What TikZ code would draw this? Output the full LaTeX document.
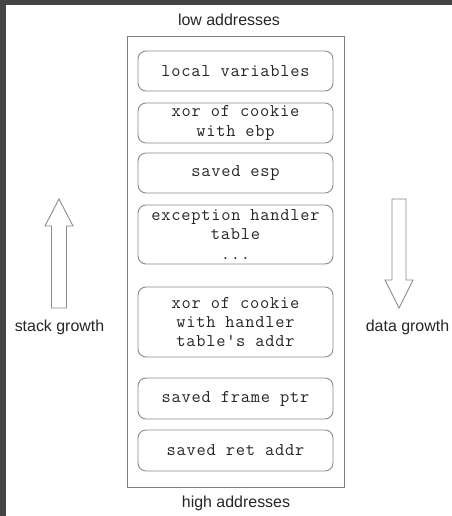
\documentclass[tikz,border=0pt]{standalone}
\usepackage{fontspec}
\setmainfont{Liberation Sans}
\newfontfamily\cellfont[LetterSpace=4.2]{Latin Modern Mono}
\definecolor{framegray}{HTML}{808080}
\definecolor{boxgray}{HTML}{8A8A8A}
\definecolor{edgedark}{HTML}{444444}
\begin{document}
\begin{tikzpicture}[x=1bp,y=-1bp,
  cell/.style={draw=boxgray,line width=0.9bp,rounded corners=8bp,minimum width=195bp,
    inner sep=0pt,align=center,font=\cellfont\fontsize{18}{19.5}\selectfont,text=black!85},
  lbl/.style={font=\fontsize{16}{19}\selectfont,text=black!85,inner sep=0pt},
  growarrow/.style={draw=boxgray,line width=0.9bp,fill=white}]
\useasboundingbox (0,0) rectangle (452,516);
\fill[white] (0,0) rectangle (452,516);
\fill[edgedark] (0,0) rectangle (452,5);
\fill[edgedark] (0,0) rectangle (6,516);
% outer frame
\draw[framegray,line width=1bp] (127,37) rectangle (344,487);
\node[lbl] (low) at (229,20) {low addresses};
\node[lbl] (high) at (236,503) {high addresses};
% cells
\node[cell,minimum height=40bp] (c1) at (235.5,71) {local variables};
\node[cell,minimum height=40bp] (c2) at (235.5,123) {xor of cookie\\with ebp};
\node[cell,minimum height=40bp] (c3) at (235.5,173) {saved esp};
\node[cell,minimum height=59bp] (c4) at (235.5,234.5) {exception handler\\table\\...};
\node[cell,minimum height=70bp] (c5) at (235.5,322) {xor of cookie\\with handler\\table's addr};
\node[cell,minimum height=41bp] (c6) at (235.5,398.5) {saved frame ptr};
\node[cell,minimum height=41bp] (c7) at (235.5,450.5) {saved ret addr};
% growth arrows
\draw[growarrow] (51.5,308) -- (51.5,226) -- (45,226) -- (59,199) -- (73,226) -- (66.5,226) -- (66.5,308) -- cycle;
\node[lbl] (stack) at (59.5,327) {stack growth};
\draw[growarrow] (392,199) -- (392,280) -- (385,280) -- (399,308) -- (413,280) -- (406,280) -- (406,199) -- cycle;
\node[lbl] (data) at (407.5,327) {data growth};
\end{tikzpicture}
\end{document}
